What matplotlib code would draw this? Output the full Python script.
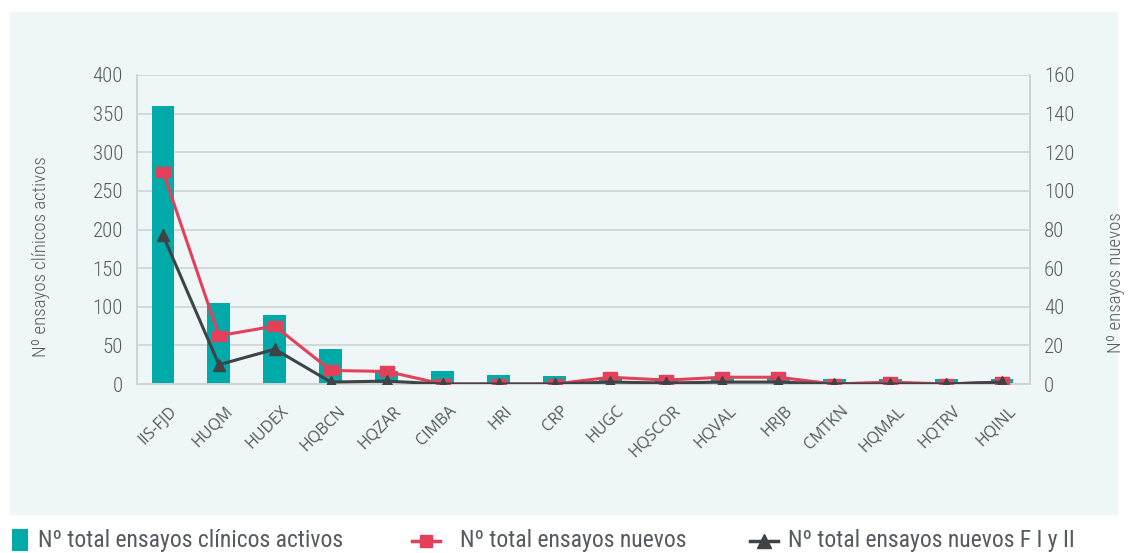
import numpy as np
import matplotlib.pyplot as plt
import matplotlib.transforms as mtransforms
from matplotlib.patches import Rectangle
from matplotlib.lines import Line2D
from matplotlib import font_manager

names = {f.name for f in font_manager.fontManager.ttflist}
FONT = "Lato"
for cand in ["Liberation Sans Narrow", "DejaVu Sans Condensed", "Roboto Condensed",
             "Open Sans Condensed"]:
    if cand in names:
        FONT = cand
        break
plt.rcParams["font.family"] = [FONT, "DejaVu Sans"]

centros = ["IIS-FJD", "HUQM", "HUDEX", "HQBCN", "HQZAR", "CIMBA", "HRI", "CRP",
           "HUGC", "HQSCOR", "HQVAL", "HRJB", "CMTKN", "HQMAL", "HQTRV", "HQINL"]
activos = [360, 105, 89, 45, 17, 17, 12, 10, 8, 8, 8, 8, 6, 6, 6, 6]
nuevos = [110, 25, 30, 7, 6.5, 0, 0, 0, 3.5, 2, 3.5, 3.5, 0, 1, 0, 1]
nuevos_f12 = [77, 10, 18, 1, 1.5, 0, 0, 0, 1, 0.5, 1, 1, 0, 0, 0, 1]

TEAL = "#00aaa8"
RED = "#e5405a"
DARK = "#3f4346"
BG = "#eef6f7"
GRID = "#cfd2d4"
TXT = "#555a5e"
RECT = [(-1.5, -1), (1.5, -1), (1.5, 1), (-1.5, 1), (-1.5, -1)]

fig = plt.figure(figsize=(11.3, 5.53), dpi=100)
W, H = 1130, 553
fig.patches.append(Rectangle((10 / W, 1 - 515 / H), 1108 / W, 503 / H,
                             transform=fig.transFigure, fc=BG, ec="none", zorder=-5))

ax = fig.add_axes([137 / W, 1 - 384 / H, 893 / W, 309 / H])
ax.set_facecolor(BG)
x = np.arange(len(centros))
ax.bar(x, activos, width=0.41, color=TEAL, zorder=2)
ax.set_ylim(0, 400)
ax.set_xlim(-0.465, len(centros) - 0.5)
ax.set_yticks(np.arange(0, 401, 50))
ax.grid(axis="y", color=GRID, lw=1.2, zorder=0)
ax.set_axisbelow(True)
ax.set_xticks(x)
ax.set_xticklabels([])
ax.tick_params(axis="x", length=0)
ax.tick_params(axis="y", length=0, pad=10, labelsize=15, labelcolor=TXT)
for lab in ax.get_yticklabels():
    lab.set_fontweight("light")
for s in ax.spines.values():
    s.set_color(GRID)
    s.set_linewidth(1.2)
ax.spines["top"].set_visible(False)

# etiquetas de categoria giradas
trans = mtransforms.blended_transform_factory(ax.transData, ax.transAxes) + \
    mtransforms.ScaledTranslation(6 / 100, -19 / 100, fig.dpi_scale_trans)
for xi, nombre in zip(x, centros):
    ax.text(xi, 0, nombre, transform=trans, rotation=45, ha="right", va="top",
            rotation_mode="anchor", fontsize=11.5, color=TXT,
            family=["Open Sans", "DejaVu Sans"])

ax2 = ax.twinx()
ax2.set_ylim(0, 160)
ax2.set_yticks(np.arange(0, 161, 20))
ax2.tick_params(axis="y", length=0, pad=10, labelsize=15, labelcolor=TXT)
for lab in ax2.get_yticklabels():
    lab.set_fontweight("light")
for s in ax2.spines.values():
    s.set_color(GRID)
    s.set_linewidth(1.2)
ax2.spines["top"].set_visible(False)
ax2.plot(x, nuevos, color=RED, lw=2.2, marker=RECT, ms=10, zorder=3)
ax2.plot(x, nuevos_f12, color=DARK, lw=2.2, marker="^", ms=8, zorder=4)

# titulos de ejes
fig.text(41 / W, 1 - 257 / H, "Nº ensayos clínicos activos", fontsize=13.5,
         color=TXT, rotation=90, ha="center", va="center", fontweight="light")
fig.text(1116 / W, 1 - 283 / H, "Nº ensayos nuevos", fontsize=13.5,
         color=TXT, rotation=90, ha="center", va="center", fontweight="light")

# leyenda
ly = 1 - 541 / H
fig.patches.append(Rectangle((12 / W, 1 - 551 / H), 16 / W, 22 / H,
                             transform=fig.transFigure, fc=TEAL, ec="none"))
fig.text(38 / W, ly, "Nº total ensayos clínicos activos", fontsize=17,
         color=TXT, va="center")
fig.lines.append(Line2D([412 / W, 440 / W], [ly, ly], transform=fig.transFigure,
                        color=RED, lw=2.5))
fig.lines.append(Line2D([426 / W], [ly], transform=fig.transFigure,
                        color=RED, marker="s", ms=9, lw=0))
fig.text(460 / W, ly, "Nº total ensayos nuevos", fontsize=17, color=TXT, va="center")
fig.lines.append(Line2D([750 / W, 778 / W], [ly, ly], transform=fig.transFigure,
                        color=DARK, lw=2.5))
fig.lines.append(Line2D([764 / W], [ly], transform=fig.transFigure,
                        color=DARK, marker="^", ms=10, lw=0))
fig.text(788 / W, ly, "Nº total ensayos nuevos F I y II", fontsize=17,
         color=TXT, va="center")

fig.savefig("out.png", dpi=100, facecolor="white")
